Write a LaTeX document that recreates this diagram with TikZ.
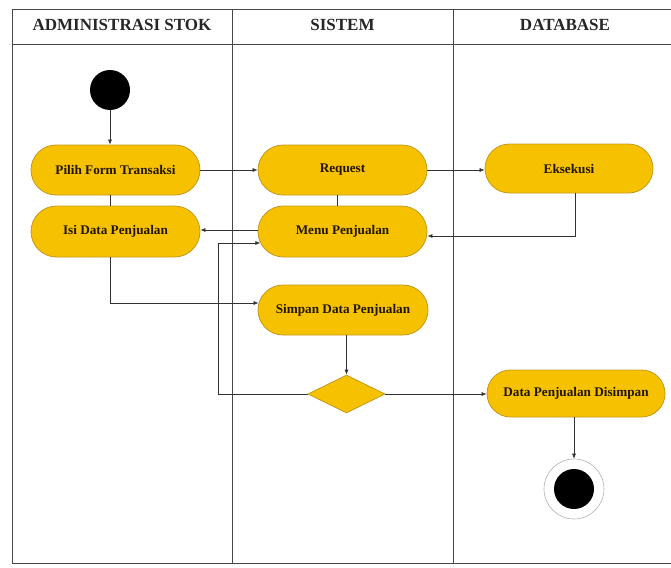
\documentclass[tikz,border=0pt]{standalone}
\usepackage{fontspec}
\setmainfont{Liberation Serif}
\usetikzlibrary{shapes.misc,shapes.geometric,arrows.meta}
\definecolor{actfill}{RGB}{246,194,0}
\definecolor{actdraw}{RGB}{196,152,30}
\definecolor{txt}{RGB}{35,20,0}
\definecolor{lanecol}{RGB}{70,70,70}
\definecolor{flowcol}{RGB}{50,50,50}
\begin{document}
\begin{tikzpicture}[x=1pt,y=-1pt,
  act/.style={rounded rectangle, draw=actdraw, line width=0.8pt, fill=actfill,
    minimum height=50pt, inner sep=0pt, text=txt,
    font=\fontsize{13.2}{15}\selectfont\bfseries},
  flow/.style={draw=flowcol, line width=0.6pt, -{Latex[length=5pt,width=4pt]}},
  plainline/.style={draw=flowcol, line width=0.6pt},
  lane/.style={draw=lanecol, line width=1pt},
  hdr/.style={font=\fontsize{17}{19}\selectfont\bfseries, text=black!85}]
\useasboundingbox (0,0) rectangle (671,567);
% swimlanes
\draw[lane] (680,10) -- (12,10) -- (12,563) -- (680,563);
\draw[lane] (12,45) -- (680,45);
\draw[lane] (232,10) -- (232,563);
\draw[lane] (453,10) -- (453,563);
\node[hdr] (h1) at (122,25) {ADMINISTRASI STOK};
\node[hdr] (h2) at (342.5,25) {SISTEM};
\node[hdr] (h3) at (565,25) {DATABASE};
% nodes
\node[circle, fill=black, minimum size=40pt, inner sep=0pt] (start) at (110,90) {};
\node[act, minimum width=169pt] (pilih) at (115.5,170) {Pilih Form Transaksi};
\node[act, minimum width=169pt, minimum height=51pt] (isi) at (115.5,231.5) {Isi Data Penjualan};
\node[act, minimum width=169pt] (request) at (342.5,170) {Request};
\node[act, minimum width=169pt, minimum height=51pt] (menu) at (342.5,231.5) {Menu Penjualan};
\node[act, minimum width=168pt, minimum height=49pt] (eks) at (569,168.5) {Eksekusi};
\node[act, minimum width=170pt] (simpan) at (343,310) {Simpan Data Penjualan};
\node[diamond, aspect=2, draw=actdraw, line width=0.8pt, fill=actfill,
  minimum width=77pt, minimum height=38pt, inner sep=0pt] (dia) at (346.5,394) {};
\node[act, minimum width=178pt, minimum height=47pt] (dpd) at (576,393.5) {Data Penjualan Disimpan};
\node[circle, draw=gray!60, line width=0.6pt, fill=white, minimum size=60pt, inner sep=0pt] (endo) at (574,489) {};
\node[circle, fill=black, minimum size=40pt, inner sep=0pt] (endi) at (574,489) {};
\coordinate (lp) at (218,243);
% connectors
\draw[flow] (start.south) -- (start.south |- pilih.north);
\draw[plainline] (pilih.south -| start) -- (isi.north -| start);
\draw[flow] (pilih.east) -- (request.west);
\draw[flow] (request.east) -- (request.east -| eks.west);
\draw[plainline] ([xshift=-5pt]request.south) -- ([xshift=-5pt]menu.north);
\draw[flow] ([xshift=6pt]eks.south) |- ([yshift=-4.5pt]menu.east);
\draw[flow] ([yshift=1.5pt]menu.west) -- ([yshift=1.5pt]isi.east);
\draw[flow] (isi.south -| start) |- ([yshift=7pt,xshift=1pt]simpan.west);
\draw[flow] (simpan.south -| dia.north) -- (dia.north);
\draw[flow] (dia.east) -- (dia.east -| dpd.west);
\draw[flow] (dia.west) -| (lp) -- ([xshift=2.7pt]lp -| menu.west);
\draw[flow] (dpd.south -| endo) -- (endo.north);
\end{tikzpicture}
\end{document}
